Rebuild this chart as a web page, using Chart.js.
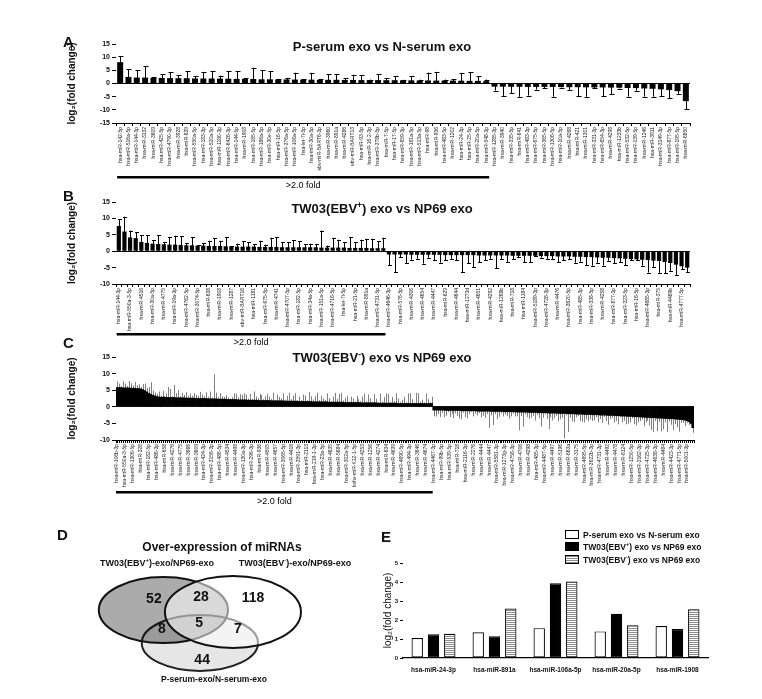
<!DOCTYPE html>
<html>
<head>
<meta charset="utf-8">
<script src="https://cdn.jsdelivr.net/npm/chart.js@4.4.0/dist/chart.umd.min.js"></script>
<style>
  html, body { margin: 0; padding: 0; background: #fff; }
  body { width: 762px; height: 699px; position: relative; overflow: hidden; font-family: Arial, "Liberation Sans", sans-serif; color: #111; }
  canvas { position: absolute; }
  .letter { position: absolute; font: bold 15px Arial, "Liberation Sans", sans-serif; }
  .ttl { position: absolute; font: bold 13px Arial, "Liberation Sans", sans-serif; white-space: nowrap; transform: translateX(-50%); }
  .ttl sup, .lab sup, .leg sup { font-size: 65%; line-height: 0; }
  .lab { position: absolute; font: bold 9px Arial, "Liberation Sans", sans-serif; white-space: nowrap; transform: translateX(-50%); }
  .leg { position: absolute; left: 565px; font: bold 8.5px Arial, "Liberation Sans", sans-serif; white-space: nowrap; }
  .leg i { display: inline-block; width: 12px; height: 7px; border: 1px solid #000; margin-right: 4px; vertical-align: -1px; }
</style>
</head>
<body>

<canvas id="cA" width="762" height="165" style="left:0;top:30px"></canvas>
<canvas id="cB" width="762" height="162" style="left:0;top:188px"></canvas>
<canvas id="cC" width="762" height="168" style="left:0;top:345px"></canvas>
<canvas id="cD" width="380" height="179" style="left:0;top:520px"></canvas>
<canvas id="cE" width="382" height="179" style="left:380px;top:520px"></canvas>

<div class="letter" style="left:63px;top:33px">A</div>
<div class="ttl" style="left:382px;top:39px">P-serum exo vs N-serum exo</div>
<div class="letter" style="left:63px;top:187px">B</div>
<div class="ttl" style="left:382px;top:201px">TW03(EBV<sup>+</sup>) exo vs NP69 exo</div>
<div class="letter" style="left:63px;top:334px">C</div>
<div class="ttl" style="left:382px;top:350px">TW03(EBV<sup>-</sup>) exo vs NP69 exo</div>

<div class="letter" style="left:57px;top:526px">D</div>
<div class="ttl" style="left:222px;top:540px;font-size:12px">Over-expression of miRNAs</div>
<div class="lab" style="left:157px;top:558px">TW03(EBV<sup>+</sup>)-exo/NP69-exo</div>
<div class="lab" style="left:295px;top:558px">TW03(EBV<sup>-</sup>)-exo/NP69-exo</div>
<div class="lab" style="left:214px;top:674px;font-size:8.5px">P-serum-exo/N-serum-exo</div>

<div class="letter" style="left:381px;top:528px">E</div>
<div class="leg" style="top:530px"><i style="background:#fff"></i>P-serum exo vs N-serum exo</div>
<div class="leg" style="top:542px"><i style="background:#000"></i>TW03(EBV<sup>+</sup>) exo vs NP69 exo</div>
<div class="leg" style="top:555px"><i style="background:repeating-linear-gradient(#8c8c8c 0 1px,#fff 1px 2px)"></i>TW03(EBV<sup>-</sup>) exo vs NP69 exo</div>

<script>
// Panel A: P-serum exo vs N-serum exo (45 up, 24 down)
const A_VALUES = [
  8.1, 2.5, 2.25, 2.25, 2.1, 2.1, 2.05, 2.0, 2.0, 1.9, 1.9, 1.9, 1.85, 1.8, 1.75,
  1.75, 1.7, 1.6, 1.6, 1.55, 1.55, 1.5, 1.45, 1.45, 1.4, 1.4, 1.4, 1.35, 1.35, 1.3,
  1.3, 1.3, 1.25, 1.25, 1.2, 1.2, 1.15, 1.15, 1.1, 1.1, 1.1, 1.05, 1.0, 1.0, 0.9,
  -1.2, -1.2, -1.25, -1.25, -1.3, -1.3, -1.3, -1.3, -1.35, -1.4, -1.4, -1.45,
  -1.5, -1.5, -1.55, -1.6, -1.7, -1.75, -1.9, -2.0, -2.2, -2.5, -2.9, -6.7,
];
const A_ERRORS = [
  2.3, 2.9, 2.75, 4.4, 0.4, 1.4, 2.3, 1.1, 2.6, 0.8, 2.5, 2.7, 1.1, 2.8, 2.85,
  0.2, 4.3, 3.4, 3.0, 0.2, 0.6, 2.6, 0.2, 2.6, 0.2, 2.2, 2.1, 0.6, 2.0, 1.8,
  0.2, 2.4, 0.8, 1.6, 0.2, 1.6, 0.3, 3.0, 3.3, 0.4, 0.6, 3.0, 3.2, 1.7, 0.6,
  1.5, 3.5, 2.5, 3.8, 3.3, 1.0, 0.5, 3.7, 0.2, 1.0, 3.3, 3.6,
  0.3, 3.4, 2.5, 0.3, 3.3, 1.0, 3.1, 3.0, 2.6, 3.0, 1.0, 3.0,
];
const A_UP = 45;
const A_NAMES = [
  'hsa-miR-142-5p', 'hsa-miR-516a-5p', 'hsa-miR-144-3p', 'hsa-miR-3132', 'hsa-miR-3609',
  'hsa-miR-425-5p', 'hsa-miR-4790-3p', 'hsa-miR-3928', 'hsa-miR-639', 'hsa-miR-550a-5p',
  'hsa-miR-183-3p', 'hsa-miR-520a-5p', 'hsa-miR-1180-3p', 'hsa-miR-6426-3p', 'hsa-miR-144-5p',
  'hsa-miR-1908', 'hsa-miR-185-5p', 'hsa-miR-186a-5p', 'hsa-miR-30e-5p', 'hsa-miR-16-5p',
  'hsa-miR-376a-5p', 'hsa-miR-106a-5p', 'hsa-let-7i-5p', 'hsa-miR-30a-5p', 'ebv-miR-BART6-3p',
  'hsa-miR-3960', 'hsa-miR-891a', 'hsa-miR-4286', 'ebv-miR-BART13', 'hsa-miR-93-5p',
  'hsa-miR-16-2-3p', 'hsa-miR-378b-5p', 'hsa-miR-7-5p', 'hsa-miR-17-5p', 'hsa-miR-659-3p',
  'hsa-miR-181a-5p', 'hsa-miR-513a-5p', 'hsa-miR-98', 'hsa-miR-936', 'hsa-miR-483-5p',
  'hsa-miR-1202', 'hsa-miR-24-3p', 'hsa-miR-25-5p', 'hsa-miR-20a-5p', 'hsa-miR-548-3p',
  'hsa-miR-1285-3p', 'hsa-miR-3940', 'hsa-miR-335-5p', 'hsa-miR-641', 'hsa-miR-483-3p',
  'hsa-miR-675-5p', 'hsa-miR-365-5p', 'hsa-miR-1306-5p', 'hsa-miR-10a-5p', 'hsa-miR-4268',
  'hsa-miR-421', 'hsa-miR-1301', 'hsa-miR-331-3p', 'hsa-miR-654-3p', 'hsa-miR-4298',
  'hsa-miR-1233b', 'hsa-miR-532-5p', 'hsa-miR-139-5p', 'hsa-miR-1246', 'hsa-miR-3911',
  'hsa-miR-3149-3p', 'hsa-miR-877-5p', 'hsa-miR-195-5p', 'hsa-miR-6850',
];

// Panel B: TW03(EBV+) exo vs NP69 exo (48 up, 54 down), one name per two bars
const B_VALUES = [
  7.7, 6.0, 4.2, 4.0, 2.8, 2.5, 2.3, 2.2, 2.1, 2.0, 2.0, 1.9, 1.8, 1.8, 1.7, 1.7,
  1.6, 1.6, 1.6, 1.5, 1.5, 1.4, 1.4, 1.4, 1.4, 1.3, 1.3, 1.3, 1.3, 1.2, 1.2, 1.2,
  1.2, 1.2, 1.2, 1.2, 1.1, 1.1, 1.1, 1.1, 1.1, 1.0, 1.0, 1.0, 1.0, 0.9, 0.9, 0.9,
  -1.0, -1.0, -1.0, -1.0, -1.1, -1.1, -1.1, -1.1, -1.1, -1.1,
  -1.2, -1.2, -1.2, -1.2, -1.2, -1.2, -1.3, -1.3, -1.3, -1.3,
  -1.3, -1.3, -1.4, -1.4, -1.4, -1.4, -1.4, -1.5, -1.5, -1.5,
  -1.6, -1.6, -1.6, -1.7, -1.7, -1.8, -1.8, -1.9, -2.0, -2.0,
  -2.1, -2.2, -2.3, -2.4, -2.5, -2.6, -2.7, -2.9, -3.0, -3.3,
  -3.6, -4.1, -4.6, -5.0,
];
const B_ERRORS = [
  2.1, 4.5, 2.1, 1.8, 2.0, 2.3, 1.0, 2.6, 0.7, 2.2, 2.7, 2.7, 0.7, 2.5, 0.1, 0.7,
  1.6, 2.4, 1.6, 2.8, 0.1, 0.9, 1.6, 1.4, 0.8, 1.9, 0.7, 2.8, 3.0, 1.5, 1.5, 2.2,
  1.8, 1.0, 1.1, 1.0, 5.2, 0.6, 3.0, 2.4, 1.6, 3.2, 1.7, 2.5, 2.8, 2.9, 2.1, 3.2,
  3.3, 5.3, 0.8, 2.6, 1.5, 1.2, 2.7, 0.9, 1.7, 2.4,
  1.6, 1.1, 1.6, 5.2, 2.5, 3.6, 2.1, 1.4, 1.0, 3.9,
  1.2, 2.0, 1.1, 0.4, 1.9, 1.9, 0.2, 0.5, 0.8, 1.0,
  1.8, 1.2, 0.9, 1.8, 1.5, 2.4, 2.6, 1.6, 2.4, 0.9,
  1.5, 1.1, 2.0, 0.4, 0.3, 1.8, 3.8, 1.9, 3.6, 3.4,
  2.4, 3.1, 0.8, 1.4,
];
const B_UP = 48;
const B_NAMES = [
  'hsa-miR-144-3p', 'hsa-miR-550a-3-5p', 'hsa-miR-4516', 'hsa-miR-30a-5p', 'hsa-miR-4775',
  'hsa-miR-19a-3p', 'hsa-miR-4762-5p', 'hsa-miR-3074-5p', 'hsa-miR-638', 'hsa-miR-1908',
  'hsa-miR-1287', 'ebv-miR-BART16', 'hsa-miR-1181', 'hsa-miR-675-5p', 'hsa-miR-4741',
  'hsa-miR-4707-5p', 'hsa-miR-182-5p', 'hsa-miR-34a-5p', 'hsa-miR-151a-5p', 'hsa-miR-4716-5p',
  'hsa-let-7i-5p', 'hsa-miR-21-5p', 'hsa-miR-891a', 'hsa-miR-4731-5p',
  'hsa-miR-4646-3p', 'hsa-miR-576-5p', 'hsa-miR-4306', 'hsa-miR-4654', 'hsa-miR-4447',
  'hsa-miR-629', 'hsa-miR-4644', 'hsa-miR-1273d', 'hsa-miR-4651', 'hsa-miR-4292',
  'hsa-miR-1268b', 'hsa-miR-718', 'hsa-miR-1184', 'hsa-miR-5189-3p', 'hsa-miR-4728-3p',
  'hsa-miR-4476', 'hsa-miR-3620-5p', 'hsa-miR-485-3p', 'hsa-miR-338-5p', 'hsa-miR-4258',
  'hsa-miR-877-3p', 'hsa-miR-323-5p', 'hsa-miR-16-5p', 'hsa-miR-4685-3p', 'hsa-miR-375',
  'hsa-miR-4489b', 'hsa-miR-4777-5p',
];

// Panel C: TW03(EBV-) exo vs NP69 exo (160 up, 132 down), one name per four bars
const C_VALUES = [
  5.8, 5.8, 5.8, 5.7, 5.7, 5.7, 5.7, 5.6, 5.6, 5.6, 5.5, 5.5, 5.4, 5.2, 4.9, 4.5, 4.1, 3.8, 3.5, 3.3,
  3.1, 3.0, 2.9, 2.9, 2.9, 2.8, 2.8, 2.8, 2.8, 2.8, 2.7, 2.7, 2.7, 2.7, 2.7, 2.6, 2.6, 2.6, 2.6, 2.6,
  2.5, 2.5, 2.5, 2.5, 2.5, 2.5, 2.4, 2.4, 2.4, 2.4, 2.4, 2.3, 2.3, 2.3, 2.3, 2.3, 2.2, 2.2, 2.2, 2.2,
  2.2, 2.1, 2.1, 2.1, 2.1, 2.1, 2.0, 2.0, 2.0, 2.0, 2.0, 2.0, 1.9, 1.9, 1.9, 1.9, 1.9, 1.9, 1.8, 1.8,
  1.8, 1.8, 1.8, 1.8, 1.8, 1.7, 1.7, 1.7, 1.7, 1.7, 1.7, 1.7, 1.6, 1.6, 1.6, 1.6, 1.6, 1.6, 1.6, 1.5,
  1.5, 1.5, 1.5, 1.5, 1.5, 1.5, 1.5, 1.4, 1.4, 1.4, 1.4, 1.4, 1.4, 1.4, 1.4, 1.3, 1.3, 1.3, 1.3, 1.3,
  1.3, 1.3, 1.3, 1.2, 1.2, 1.2, 1.2, 1.2, 1.2, 1.2, 1.2, 1.2, 1.1, 1.1, 1.1, 1.1, 1.1, 1.1, 1.1, 1.1,
  1.1, 1.1, 1.0, 1.0, 1.0, 1.0, 1.0, 1.0, 1.0, 1.0, 1.0, 1.0, 1.0, 1.0, 1.0, 1.0, 1.0, 1.0, 1.0, 1.0,
  -1.0, -1.0, -1.0, -1.0, -1.0, -1.0, -1.1, -1.1, -1.1, -1.1, -1.1, -1.1, -1.1, -1.1, -1.2, -1.2, -1.2, -1.2, -1.2, -1.2,
  -1.2, -1.2, -1.3, -1.3, -1.3, -1.3, -1.3, -1.3, -1.3, -1.4, -1.4, -1.4, -1.4, -1.4, -1.4, -1.4, -1.5, -1.5, -1.5, -1.5,
  -1.5, -1.5, -1.6, -1.6, -1.6, -1.6, -1.6, -1.6, -1.7, -1.7, -1.7, -1.7, -1.7, -1.8, -1.8, -1.8, -1.8, -1.8, -1.9, -1.9,
  -1.9, -1.9, -1.9, -2.0, -2.0, -2.0, -2.0, -2.0, -2.1, -2.1, -2.1, -2.1, -2.2, -2.2, -2.2, -2.2, -2.3, -2.3, -2.3, -2.3,
  -2.4, -2.4, -2.4, -2.4, -2.5, -2.5, -2.5, -2.5, -2.6, -2.6, -2.6, -2.6, -2.7, -2.7, -2.7, -2.8, -2.8, -2.8, -2.9, -2.9,
  -2.9, -3.0, -3.0, -3.0, -3.1, -3.1, -3.1, -3.2, -3.2, -3.2, -3.3, -3.3, -3.3, -3.4, -3.4, -3.4, -3.5, -3.5, -3.5, -3.6,
  -3.6, -3.6, -3.7, -3.7, -3.8, -3.8, -3.9, -4.0, -4.2, -4.5, -5.0, -6.3,
];
const C_ERRORS = [
  1.9, 1.2, 0.4, 2.0, 1.3, 0.6, 2.1, 1.5, 0.8, 1.9, 1.0, 1.3, 0.6, 1.7, 2.1, 1.2, 1.9, 3.6, 1.4, 1.0,
  0.8, 1.6, 0.5, 1.9, 0.3, 1.2, 3.2, 2.6, 0.4, 3.8, 1.4, 2.3, 0.5, 1.5, 0.9, 1.8, 0.6, 1.4, 0.7, 1.5,
  1.1, 0.8, 2.0, 1.2, 0.7, 1.9, 0.6, 2.2, 0.4, 7.4, 1.9, 0.6, 1.8, 0.9, 0.7, 1.2, 0.6, 0.3, 0.7, 1.9,
  1.8, 0.7, 1.7, 1.4, 2.0, 1.6, 0.5, 1.9, 0.3, 2.6, 1.1, 0.6, 2.0, 1.6, 0.4, 1.3, 2.0, 1.2, 0.6, 2.4,
  0.3, 1.9, 1.2, 0.8, 2.3, 0.4, 1.6, 2.5, 0.6, 1.7, 2.4, 0.3, 1.5, 0.5, 2.1, 1.8, 0.4, 2.8, 1.6, 0.7,
  1.7, 2.7, 0.5, 1.8, 1.0, 0.6, 2.6, 1.2, 0.3, 1.7, 2.8, 1.0, 2.5, 2.8, 0.5, 1.4, 1.9, 0.3, 1.8, 1.2,
  0.3, 2.0, 1.0, 0.6, 1.9, 2.8, 0.4, 2.5, 1.4, 0.3, 2.7, 1.2, 0.2, 2.9, 0.5, 1.8, 2.9, 2.8, 0.4, 1.9,
  0.6, 3.0, 1.5, 0.5, 1.1, 2.0, 0.4, 3.0, 3.1, 1.3, 0.3, 3.2, 3.1, 0.5, 1.1, 0.3, 3.0, 1.3, 0.4, 2.0,
  1.8, 2.0, 1.2, 2.1, 0.8, 2.2, 1.6, 0.5, 2.0, 1.1, 2.3, 0.9, 1.7, 2.4, 2.6, 0.6, 1.9, 2.3, 1.0, 0.4,
  1.7, 0.9, 1.3, 0.6, 1.8, 1.4, 2.0, 0.9, 5.0, 1.2, 4.1, 0.8, 2.3, 1.6, 0.5, 1.5, 0.9, 1.3, 2.1, 1.4,
  0.6, 1.4, 1.3, 5.5, 1.2, 4.4, 0.7, 1.5, 2.0, 1.6, 1.1, 2.4, 0.8, 1.7, 4.2, 1.5, 0.5, 1.9, 4.8, 1.2,
  2.2, 1.6, 0.8, 2.4, 1.8, 1.3, 7.5, 0.6, 5.5, 1.2, 2.3, 2.5, 1.0, 0.6, 2.1, 2.3, 2.4, 1.5, 2.1, 1.5,
  1.9, 1.7, 0.7, 2.3, 1.2, 2.4, 0.6, 1.8, 2.8, 1.1, 0.8, 2.2, 1.6, 2.6, 0.5, 1.9, 1.4, 2.5, 2.2, 1.8,
  0.6, 2.2, 2.6, 1.7, 1.2, 0.7, 2.8, 1.5, 1.0, 2.4, 3.7, 4.3, 1.0, 3.9, 1.1, 4.0, 3.3, 1.2, 4.1, 0.8,
  1.8, 3.4, 1.5, 2.5, 3.7, 1.0, 0.9, 1.8, 0.6, 1.0, 1.3, 1.5,
];
const C_UP = 160;
const C_NAMES = [
  'hsa-miR-106b-3p', 'hsa-miR-550a-3-5p', 'hsa-miR-1306-5p', 'hsa-miR-326', 'hsa-miR-182-5p',
  'hsa-miR-486-3p', 'hsa-miR-658', 'hsa-miR-4276', 'hsa-miR-4775', 'hsa-miR-3666',
  'hsa-miR-3609', 'hsa-miR-424-3p', 'hsa-miR-3156-3p', 'hsa-miR-486-5p', 'hsa-miR-4534',
  'hsa-miR-4498', 'hsa-miR-130a-3p', 'hsa-miR-296-3p', 'hsa-miR-936', 'hsa-miR-4505',
  'hsa-miR-4657', 'hsa-miR-3065-5p', 'hsa-miR-4418', 'hsa-miR-3591-3p', 'hsa-miR-2113',
  'hsa-miR-219-1-3p', 'hsa-miR-23a-5p', 'hsa-miR-4635', 'hsa-miR-5684', 'hsa-miR-302a-5p',
  'kshv-miR-K12-1-5p', 'hsa-miR-4253', 'hsa-miR-1256', 'hsa-miR-4274', 'hsa-miR-634',
  'hsa-miR-4639', 'hsa-miR-4690-5p', 'hsa-miR-494-3p', 'hsa-miR-3646', 'hsa-miR-4674',
  'hsa-miR-4467-3p', 'hsa-miR-99b-5p', 'hsa-miR-539-5p', 'hsa-miR-718', 'hsa-miR-2116-3p',
  'hsa-miR-2276', 'hsa-miR-4444', 'hsa-miR-4447', 'hsa-miR-5581-3p', 'hsa-miR-1273g-3p',
  'hsa-miR-4758-3p', 'hsa-miR-4706', 'hsa-miR-4298', 'hsa-miR-485-3p', 'hsa-miR-4487-5p',
  'hsa-miR-4497', 'hsa-miR-5196', 'hsa-miR-663a', 'hsa-miR-3175', 'hsa-miR-4695-5p',
  'hsa-miR-3622b-3p', 'hsa-miR-4731-3p', 'hsa-miR-4492', 'hsa-miR-4478', 'hsa-miR-6124',
  'hsa-miR-1250-5p', 'hsa-miR-3162-3p', 'hsa-miR-4725-3p', 'hsa-miR-4638-3p', 'hsa-miR-4484',
  'hsa-miR-4423-3p', 'hsa-miR-4771-5p', 'hsa-miR-5001-3p',
];

// Panel D: Venn counts (over-expressed miRNAs)
const VENN_SETS = ['TW03(EBV+)-exo/NP69-exo', 'TW03(EBV-)-exo/NP69-exo', 'P-serum-exo/N-serum-exo'];
const VENN_COUNTS = [52, 28, 118, 8, 5, 7, 44];

// Panel E: shared miRNAs
const E_CATEGORIES = ['hsa-miR-24-3p', 'hsa-miR-891a', 'hsa-miR-106a-5p', 'hsa-miR-20a-5p', 'hsa-miR-1908'];
const E_SERIES = ['P-serum exo vs N-serum exo', 'TW03(EBV+) exo vs NP69 exo', 'TW03(EBV-) exo vs NP69 exo'];
const E_PSERUM = [1.05, 1.35, 1.57, 1.40, 1.68];
const E_EBVPOS = [1.25, 1.15, 3.93, 2.33, 1.53];
const E_EBVNEG = [1.28, 2.60, 4.03, 1.73, 2.57];

Chart.defaults.font.family = 'Arial, "Liberation Sans", sans-serif';
Chart.defaults.color = '#111';

// Error whiskers, drawn under the bars so only the outer part shows.
const errorBars = {
  id: 'errorBars',
  beforeDatasetsDraw(chart, args, opts) {
    const meta = chart.getDatasetMeta(0);
    const data = chart.data.datasets[0].data;
    const y = chart.scales.y;
    const ctx = chart.ctx;
    ctx.save();
    ctx.strokeStyle = opts.color;
    ctx.lineWidth = 1;
    meta.data.forEach((bar, i) => {
      const v = data[i];
      const e = opts.errors[i] || 0;
      const end = y.getPixelForValue(v >= 0 ? v + e : v - e);
      const x = Math.round(bar.x) + 0.5;
      ctx.beginPath();
      ctx.moveTo(x, y.getPixelForValue(0));
      ctx.lineTo(x, end);
      if (opts.cap) {
        ctx.moveTo(x - opts.cap, Math.round(end) + 0.5);
        ctx.lineTo(x + opts.cap + 1, Math.round(end) + 0.5);
      }
      ctx.stroke();
    });
    ctx.restore();
  },
};

// ">2.0 fold" underline below the up-regulated bars
const foldMark = {
  id: 'foldMark',
  afterDraw(chart, args, opts) {
    const meta = chart.getDatasetMeta(0);
    const first = meta.data[0];
    const last = meta.data[opts.count - 1];
    const x0 = first.x - first.width / 2;
    const x1 = last.x + last.width / 2;
    const yy = chart.chartArea.bottom + opts.offset;
    const ctx = chart.ctx;
    ctx.save();
    ctx.fillStyle = '#000';
    ctx.fillRect(x0, yy - 1, x1 - x0, 2.5);
    ctx.font = '9px Arial, "Liberation Sans", sans-serif';
    ctx.textAlign = 'center';
    ctx.textBaseline = 'middle';
    ctx.fillText('>2.0 fold', (x0 + x1) / 2, yy + opts.gap);
    ctx.restore();
  },
};

function foldChart(id, values, errors, names, step, o) {
  return new Chart(document.getElementById(id), {
    type: 'bar',
    data: {
      labels: values.map((_, i) => i),
      datasets: [{
        data: values,
        backgroundColor: '#000',
        borderWidth: 0,
        barPercentage: o.bar,
        categoryPercentage: 1,
      }],
    },
    options: {
      responsive: false,
      animation: false,
      events: [],
      layout: { padding: o.pad },
      plugins: {
        legend: { display: false },
        tooltip: { enabled: false },
        errorBars: { errors, color: o.errColor, cap: o.cap },
        foldMark: { count: o.up, offset: o.lineOff, gap: o.textGap },
      },
      scales: {
        x: {
          grid: { drawOnChartArea: false, color: '#000', tickLength: 3 },
          border: { color: '#000', width: 1 },
          ticks: {
            autoSkip: false,
            minRotation: 90,
            maxRotation: 90,
            padding: 1,
            color: '#222',
            font: { size: 5 },
            callback: (v, i) => (i % step === 0 ? names[i / step] : ''),
          },
          afterFit: s => { s.height = 50; },
        },
        y: {
          min: o.min,
          max: 15,
          ticks: { stepSize: 5, padding: 2, font: { size: 7, weight: 'bold' } },
          grid: {
            color: c => (c.tick && c.tick.value === 0 ? '#000' : 'rgba(0,0,0,0)'),
            tickColor: '#000',
            tickLength: 4,
          },
          border: { display: false },
          title: {
            display: true,
            text: 'log₂(fold change)',
            font: { size: 10, weight: 'bold' },
            padding: 0,
          },
          afterFit: s => { s.width = 50; },
        },
      },
    },
    plugins: [errorBars, foldMark],
  });
}

foldChart('cA', A_VALUES, A_ERRORS, A_NAMES, 1, {
  up: A_UP, bar: 0.72, cap: 2, errColor: '#000', min: -15,
  pad: { left: 66, right: 72, top: 14, bottom: 22 }, lineOff: 54, textGap: 9,
});
foldChart('cB', B_VALUES, B_ERRORS, B_NAMES, 2, {
  up: B_UP, bar: 0.75, cap: 1.5, errColor: '#000', min: -10,
  pad: { left: 66, right: 72, top: 14, bottom: 16 }, lineOff: 50, textGap: 9,
});
foldChart('cC', C_VALUES, C_ERRORS, C_NAMES, 4, {
  up: C_UP, bar: 1, cap: 0, errColor: '#808080', min: -10,
  pad: { left: 66, right: 68, top: 12, bottom: 23 }, lineOff: 52, textGap: 10,
});

// Venn: three ellipses laid out on a 0-100 grid, counts placed in each region
const VENN_SHAPES = [
  { cx: 43.0, cy: 50.3, rx: 17.0, ry: 18.4 },
  { cx: 61.3, cy: 51.4, rx: 17.9, ry: 20.1 },
  { cx: 52.6, cy: 68.7, rx: 15.3, ry: 15.6 },
];
const VENN_SPOTS = [
  [40.5, 44.1], [52.9, 43.0], [66.6, 43.6], [42.6, 60.9], [52.4, 57.5], [62.6, 60.9], [53.2, 78.2],
];

const venn = {
  id: 'venn',
  afterDraw(chart) {
    const x = chart.scales.x, y = chart.scales.y, ctx = chart.ctx;
    const path = s => {
      const cx = x.getPixelForValue(s.cx), cy = y.getPixelForValue(s.cy);
      const rx = x.getPixelForValue(s.cx + s.rx) - cx;
      const ry = Math.abs(y.getPixelForValue(s.cy + s.ry) - cy);
      ctx.beginPath();
      ctx.ellipse(cx, cy, rx, ry, 0, 0, Math.PI * 2);
    };
    ctx.save();
    ctx.lineWidth = 2;
    path(VENN_SHAPES[2]);
    ctx.fillStyle = '#e6e6e6'; ctx.fill();
    ctx.strokeStyle = '#222'; ctx.stroke();
    path(VENN_SHAPES[0]);
    ctx.fillStyle = 'rgba(0,0,0,0.33)'; ctx.fill();
    ctx.strokeStyle = '#111'; ctx.stroke();
    path(VENN_SHAPES[1]);
    ctx.fillStyle = 'rgba(255,255,255,0.55)'; ctx.fill();
    ctx.strokeStyle = '#111'; ctx.stroke();
    ctx.fillStyle = '#111';
    ctx.font = 'bold 14px Arial, "Liberation Sans", sans-serif';
    ctx.textAlign = 'center';
    ctx.textBaseline = 'middle';
    VENN_COUNTS.forEach((n, i) => {
      ctx.fillText(String(n), x.getPixelForValue(VENN_SPOTS[i][0]), y.getPixelForValue(VENN_SPOTS[i][1]));
    });
    ctx.restore();
  },
};

new Chart(document.getElementById('cD'), {
  type: 'scatter',
  data: { datasets: [{ label: VENN_SETS.join(' | '), data: [] }] },
  options: {
    responsive: false,
    animation: false,
    events: [],
    layout: { padding: 0 },
    plugins: { legend: { display: false }, tooltip: { enabled: false } },
    scales: {
      x: { type: 'linear', min: 0, max: 100, display: false },
      y: { type: 'linear', min: 0, max: 100, reverse: true, display: false },
    },
  },
  plugins: [venn],
});

// Panel E: grouped bars, third series hatched with grey horizontal lines
const pc = document.createElement('canvas');
pc.width = 4; pc.height = 2;
const pctx = pc.getContext('2d');
pctx.fillStyle = '#fff'; pctx.fillRect(0, 0, 4, 2);
pctx.fillStyle = '#8c8c8c'; pctx.fillRect(0, 0, 4, 1);
const stripes = pctx.createPattern(pc, 'repeat');

const eBar = { borderColor: '#000', borderWidth: 1.2, borderSkipped: false, barPercentage: 0.7, categoryPercentage: 0.8 };

new Chart(document.getElementById('cE'), {
  type: 'bar',
  data: {
    labels: E_CATEGORIES,
    datasets: [
      { label: E_SERIES[0], data: E_PSERUM, backgroundColor: '#fff', ...eBar },
      { label: E_SERIES[1], data: E_EBVPOS, backgroundColor: '#000', ...eBar },
      { label: E_SERIES[2], data: E_EBVNEG, backgroundColor: stripes, ...eBar },
    ],
  },
  options: {
    responsive: false,
    animation: false,
    events: [],
    layout: { padding: { left: 2, right: 54, top: 43, bottom: 21 } },
    plugins: { legend: { display: false }, tooltip: { enabled: false } },
    scales: {
      x: {
        grid: { display: false },
        border: { color: '#000', width: 1.2 },
        ticks: { font: { size: 6.5, weight: 'bold' }, padding: 0, maxRotation: 0, color: '#111' },
        afterFit: s => { s.height = 20; },
      },
      y: {
        min: 0,
        max: 5,
        ticks: { stepSize: 1, padding: 2, font: { size: 6, weight: 'bold' } },
        grid: { drawOnChartArea: false, color: '#000', tickLength: 3 },
        border: { display: false },
        title: { display: true, text: 'log₂(fold change)', font: { size: 10 }, padding: 0 },
        afterFit: s => { s.width = 21; },
      },
    },
  },
});
</script>
</body>
</html>
